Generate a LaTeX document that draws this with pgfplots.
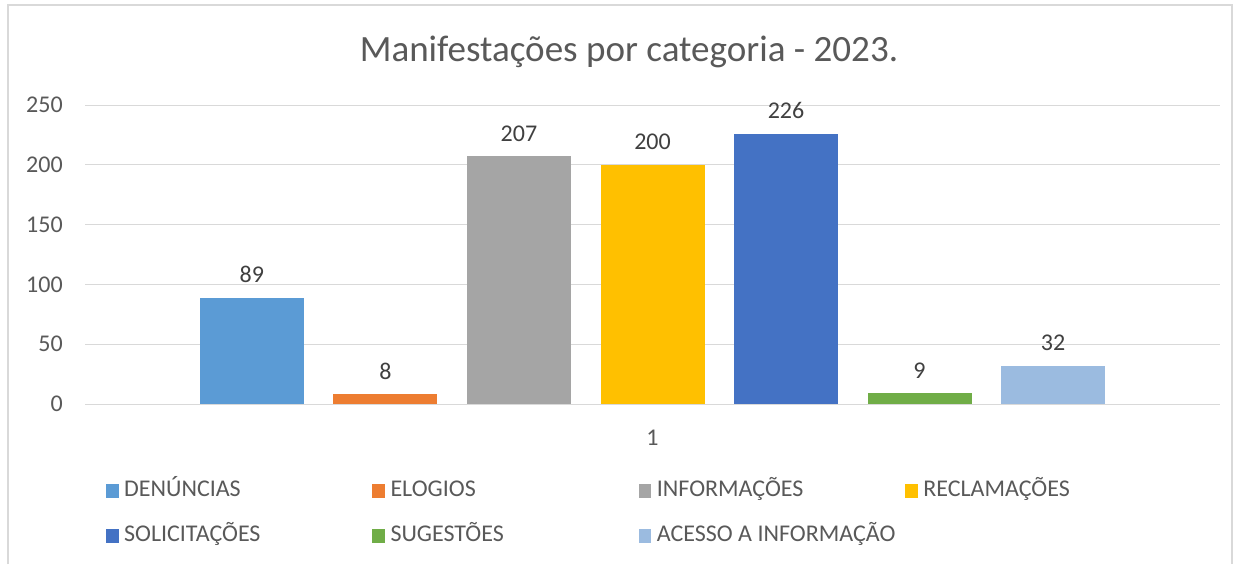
\documentclass[border=0pt]{standalone}
\usepackage{pgfplots}
\pgfplotsset{compat=1.18}
\usepackage{fontspec}
\setmainfont{Carlito}
\definecolor{cDen}{HTML}{5B9BD5}
\definecolor{cElo}{HTML}{ED7D31}
\definecolor{cInf}{HTML}{A5A5A5}
\definecolor{cRec}{HTML}{FFC000}
\definecolor{cSol}{HTML}{4472C4}
\definecolor{cSug}{HTML}{70AD47}
\definecolor{cAce}{HTML}{9BBBE0}
\definecolor{gridgray}{HTML}{D9D9D9}
\definecolor{txtgray}{HTML}{595959}
\definecolor{lblgray}{HTML}{404040}
\pgfplotsset{ybar legend/.style={legend image code/.code={\fill[##1,draw=none] (0pt,-4.9pt) rectangle (9.4pt,4.9pt);}}}
\newcommand{\lent}[1]{\makebox[182pt][l]{#1}}
\begin{document}
\begin{tikzpicture}
\useasboundingbox (0pt,0pt) rectangle (942pt,-423pt);
\fill[white] (0pt,0pt) rectangle (942pt,-423pt);
\draw[gridgray, line width=1.5pt] (6pt,-423pt) -- (6pt,-3.75pt) -- (924pt,-3.75pt) -- (924pt,-423pt);
\node[font=\fontsize{27.8}{33}\selectfont, text=txtgray] at (471.75pt,-39pt) {Manifestações por categoria - 2023.};
\begin{axis}[
  at={(63.75pt,-303pt)}, anchor=south west, scale only axis,
  width=851.25pt, height=224.25pt,
  xmin=-1.25, xmax=7.25, ymin=0, ymax=250,
  ytick={0,50,...,250}, xtick={3}, xticklabels={1},
  axis line style={draw=none}, tick style={draw=none}, major tick length=0pt,
  ymajorgrids, grid style={gridgray, line width=0.75pt},
  ybar, bar width=78pt, bar shift=0pt,
  /pgf/number format/assume math mode=true,
  tick label style={font=\fontsize{18}{22}\selectfont, text=txtgray},
  yticklabel style={inner sep=0pt, anchor=east, xshift=-16.5pt},
  xticklabel style={inner sep=0pt, anchor=north, yshift=-19.5pt},
  nodes near coords,
  every node near coord/.append style={font=\fontsize{18}{22}\selectfont, text=lblgray, inner sep=0pt, yshift=11pt},
  legend columns=4,
  legend style={draw=none, fill=none, at={(0.0185,-0.3662)}, anchor=west, inner sep=0pt, outer sep=0pt,
    column sep=4.2pt, row sep=17.75pt,
    nodes={inner sep=0pt, font=\fontsize{18}{22}\selectfont, text=txtgray, text height=12pt, text depth=4pt}},
]
\addplot[fill=cDen, draw=none] coordinates {(0,89)}; \addlegendentry{\lent{DENÚNCIAS}}
\addplot[fill=cElo, draw=none] coordinates {(1,8)}; \addlegendentry{\lent{ELOGIOS}}
\addplot[fill=cInf, draw=none] coordinates {(2,207)}; \addlegendentry{\lent{INFORMAÇÕES}}
\addplot[fill=cRec, draw=none] coordinates {(3,200)}; \addlegendentry{\lent{RECLAMAÇÕES}}
\addplot[fill=cSol, draw=none] coordinates {(4,226)}; \addlegendentry{\lent{SOLICITAÇÕES}}
\addplot[fill=cSug, draw=none] coordinates {(5,9)}; \addlegendentry{\lent{SUGESTÕES}}
\addplot[fill=cAce, draw=none] coordinates {(6,32)}; \addlegendentry{\lent{ACESSO A INFORMAÇÃO}}
\end{axis}
\end{tikzpicture}
\end{document}
